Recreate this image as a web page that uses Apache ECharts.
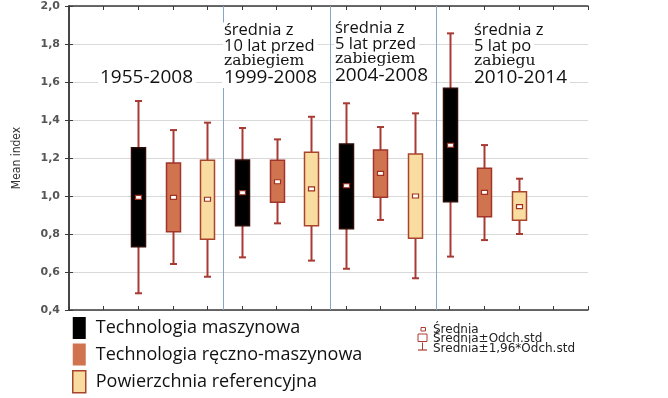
<!DOCTYPE html>
<html>
<head>
<meta charset="utf-8">
<script src="https://cdn.jsdelivr.net/npm/echarts@6/dist/echarts.min.js"></script>
<style>
  html, body { margin: 0; padding: 0; background: #fff; }
  #chart { width: 668px; height: 398px; }
</style>
</head>
<body>
<div id="chart"></div>
<script>
// okresy (grupy) i serie
const periods = ['1955-2008', '1999-2008', '2004-2008', '2010-2014']
const seriesNames = ['Technologia maszynowa', 'Technologia ręczno-maszynowa', 'Powierzchnia referencyjna']
const yTicks = [0.4, 0.6, 0.8, 1.0, 1.2, 1.4, 1.6, 1.8, 2.0]

// Technologia maszynowa
const meanMasz = [0.993, 1.017, 1.054, 1.267]
const boxLoMasz = [0.733, 0.844, 0.828, 0.970]
const boxHiMasz = [1.254, 1.189, 1.274, 1.567]
const whLoMasz = [0.488, 0.677, 0.617, 0.681]
const whHiMasz = [1.500, 1.358, 1.488, 1.856]

// Technologia ręczno-maszynowa
const meanRecz = [0.993, 1.075, 1.119, 1.019]
const boxLoRecz = [0.812, 0.967, 0.993, 0.891]
const boxHiRecz = [1.174, 1.188, 1.242, 1.146]
const whLoRecz = [0.642, 0.856, 0.874, 0.768]
const whHiRecz = [1.347, 1.298, 1.363, 1.268]

// Powierzchnia referencyjna
const meanRef = [0.983, 1.037, 1.000, 0.944]
const boxLoRef = [0.772, 0.844, 0.777, 0.872]
const boxHiRef = [1.188, 1.230, 1.221, 1.023]
const whLoRef = [0.575, 0.660, 0.567, 0.800]
const whHiRef = [1.386, 1.417, 1.435, 1.091]

// granice okresów na osi x
const separators = [4.45, 7.55, 10.6]

const statLegend = ['Średnia', 'Średnia±Odch.std', 'Średnia±1,96*Odch.std']
const periodTitles = [
  [],
  ['średnia z', '10 lat przed', 'zabiegiem'],
  ['średnia z', '5 lat przed', 'zabiegiem'],
  ['średnia z', '5 lat po', 'zabiegu']
]

const fills = ['#000000', '#d0734f', '#f8dca0']
const borders = ['#2a0c08', '#a0352a', '#a8452c']
const whiskerColor = '#a83a34'

const chart = echarts.init(document.getElementById('chart'))

const build = (mean, lo, hi, wLo, wHi, s) =>
  periods.map((p, g) => [2 + g * 3 + s, wLo[g], lo[g], mean[g], hi[g], wHi[g]])

const seriesData = [
  build(meanMasz, boxLoMasz, boxHiMasz, whLoMasz, whHiMasz, 0),
  build(meanRecz, boxLoRecz, boxHiRecz, whLoRecz, whHiRecz, 1),
  build(meanRef, boxLoRef, boxHiRef, whLoRef, whHiRef, 2)
]

const makeRender = s => (params, api) => {
  const x = api.value(0)
  const pWLo = api.coord([x, api.value(1)])
  const pLo = api.coord([x, api.value(2)])
  const pMean = api.coord([x, api.value(3)])
  const pHi = api.coord([x, api.value(4)])
  const pWHi = api.coord([x, api.value(5)])
  const cx = Math.round(pMean[0]) + 0.5
  const bw = 14
  const cap = 3.5
  return {
    type: 'group',
    children: [
      { type: 'line', shape: { x1: cx, y1: pWHi[1], x2: cx, y2: pWLo[1] },
        style: { stroke: whiskerColor, lineWidth: 2 } },
      { type: 'line', shape: { x1: cx - cap, y1: pWHi[1], x2: cx + cap, y2: pWHi[1] },
        style: { stroke: whiskerColor, lineWidth: 2 } },
      { type: 'line', shape: { x1: cx - cap, y1: pWLo[1], x2: cx + cap, y2: pWLo[1] },
        style: { stroke: whiskerColor, lineWidth: 2 } },
      { type: 'rect', shape: { x: cx - bw / 2, y: pHi[1], width: bw, height: pLo[1] - pHi[1] },
        style: { fill: fills[s], stroke: borders[s], lineWidth: 1.5 } },
      { type: 'rect', shape: { x: cx - 3, y: pMean[1] - 2, width: 6, height: 4 },
        style: { fill: '#fff', stroke: '#a0301f', lineWidth: 1.2 } }
    ]
  }
}

const series = seriesNames.map((name, s) => ({
  name,
  type: 'custom',
  renderItem: makeRender(s),
  itemStyle: { color: fills[s], borderColor: borders[s] },
  encode: { x: 0, y: [1, 5] },
  data: seriesData[s],
  z: 3
}))

series[0].markLine = {
  silent: true,
  symbol: 'none',
  label: { show: false },
  lineStyle: { color: '#86a6c8', width: 1, type: 'solid' },
  data: separators.map(v => ({ xAxis: v }))
}

const frameAxis = {
  axisLine: { show: true, lineStyle: { color: '#3a3a3a', width: 1.5 } },
  axisTick: { show: true, inside: true, length: 4, lineStyle: { color: '#3a3a3a' } },
  axisLabel: { show: false },
  splitLine: { show: false }
}

// tytuły okresów (białe tło zasłania linie siatki, jak w oryginale)
const graphics = []
const font = "'Open Sans', 'Noto Sans', sans-serif"
const yearText = (left, top, text) => ({
  type: 'text', left, top, z: 10,
  style: {
    text, font: `19px ${font}`, fill: '#111', lineHeight: 20,
    backgroundColor: '#fff', padding: [0, 3, 0, 2]
  }
})
graphics.push(yearText(98, 68, periods[0]))
const titleLeft = [0, 223, 334, 473]
const titleTop = [0, 22, 20, 22]
for (let g = 1; g < periods.length; g++) {
  periodTitles[g].forEach((t, i) => {
    const serif = i === 2
    graphics.push({
      type: 'text', left: titleLeft[g], top: titleTop[g] + i * 15.7, z: 10,
      style: {
        text: t,
        font: serif ? `15.5px 'DejaVu Serif', serif` : `16.5px ${font}`,
        fill: '#111', lineHeight: 16,
        backgroundColor: '#fff', padding: [0, 3, 0, 1]
      }
    })
  })
  graphics.push(yearText(titleLeft[g] - 1, titleTop[g] + 46, periods[g]))
}

// legenda statystyk
const sx = 418
graphics.push(
  { type: 'rect', shape: { x: sx + 3, y: 327.5, width: 4.5, height: 3.5 },
    style: { fill: '#fff', stroke: '#b03a30', lineWidth: 1 } },
  { type: 'rect', shape: { x: sx, y: 334, width: 9, height: 7.5 },
    style: { fill: '#fff', stroke: '#b03a30', lineWidth: 1 } },
  { type: 'line', shape: { x1: sx + 4.5, y1: 342.5, x2: sx + 4.5, y2: 350 },
    style: { stroke: '#b03a30', lineWidth: 1 } },
  { type: 'line', shape: { x1: sx, y1: 350, x2: sx + 9, y2: 350 },
    style: { stroke: '#b03a30', lineWidth: 1.2 } }
)
statLegend.forEach((t, i) => {
  graphics.push({
    type: 'text', left: 433, top: 323.5 + i * 9.8,
    style: { text: t, font: "12px 'DejaVu Sans', sans-serif", fill: '#222' }
  })
})

const option = {
  backgroundColor: '#fff',
  animation: false,
  grid: { left: 69, right: 80, top: 6, bottom: 88 },
  xAxis: [
    Object.assign({ type: 'value', min: 0, max: 15, interval: 1, position: 'bottom' }, frameAxis),
    Object.assign({ type: 'value', min: 0, max: 15, interval: 1, position: 'top' }, frameAxis)
  ],
  yAxis: [
    {
      type: 'value', min: 0.4, max: 2.0, interval: 0.2, position: 'left',
      name: 'Mean index', nameLocation: 'middle', nameGap: 46, nameRotate: 90,
      nameTextStyle: { fontFamily: "'Liberation Sans Narrow', 'DejaVu Sans Condensed', 'Liberation Sans', sans-serif", fontSize: 12, color: '#333' },
      axisLine: { show: true, lineStyle: { color: '#3a3a3a', width: 1.5 } },
      axisTick: { show: true, inside: true, length: 4, lineStyle: { color: '#3a3a3a' } },
      axisLabel: {
        margin: 9, fontFamily: "'DejaVu Sans', sans-serif", fontWeight: 'bold', fontSize: 11, color: '#555',
        formatter: v => yTicks.find(t => Math.abs(t - v) < 1e-6).toFixed(1).replace('.', ',')
      },
      splitLine: { show: true, lineStyle: { color: '#d9d9d9', width: 1 } }
    },
    Object.assign({ type: 'value', min: 0.4, max: 2.0, interval: 0.2, position: 'right' }, frameAxis)
  ],
  legend: {
    orient: 'vertical',
    left: 72, top: 317,
    padding: 0,
    itemWidth: 13, itemHeight: 22, itemGap: 4.5,
    selectedMode: false,
    textStyle: { fontFamily: font, fontSize: 18, color: '#111', padding: [2, 0, 0, 5] },
    data: seriesNames.map((name, s) => ({
      name, icon: 'rect',
      itemStyle: { color: fills[s], borderColor: borders[s], borderWidth: s === 2 ? 1.5 : 0 }
    }))
  },
  graphic: graphics,
  series
}

chart.setOption(option)
</script>
</body>
</html>
